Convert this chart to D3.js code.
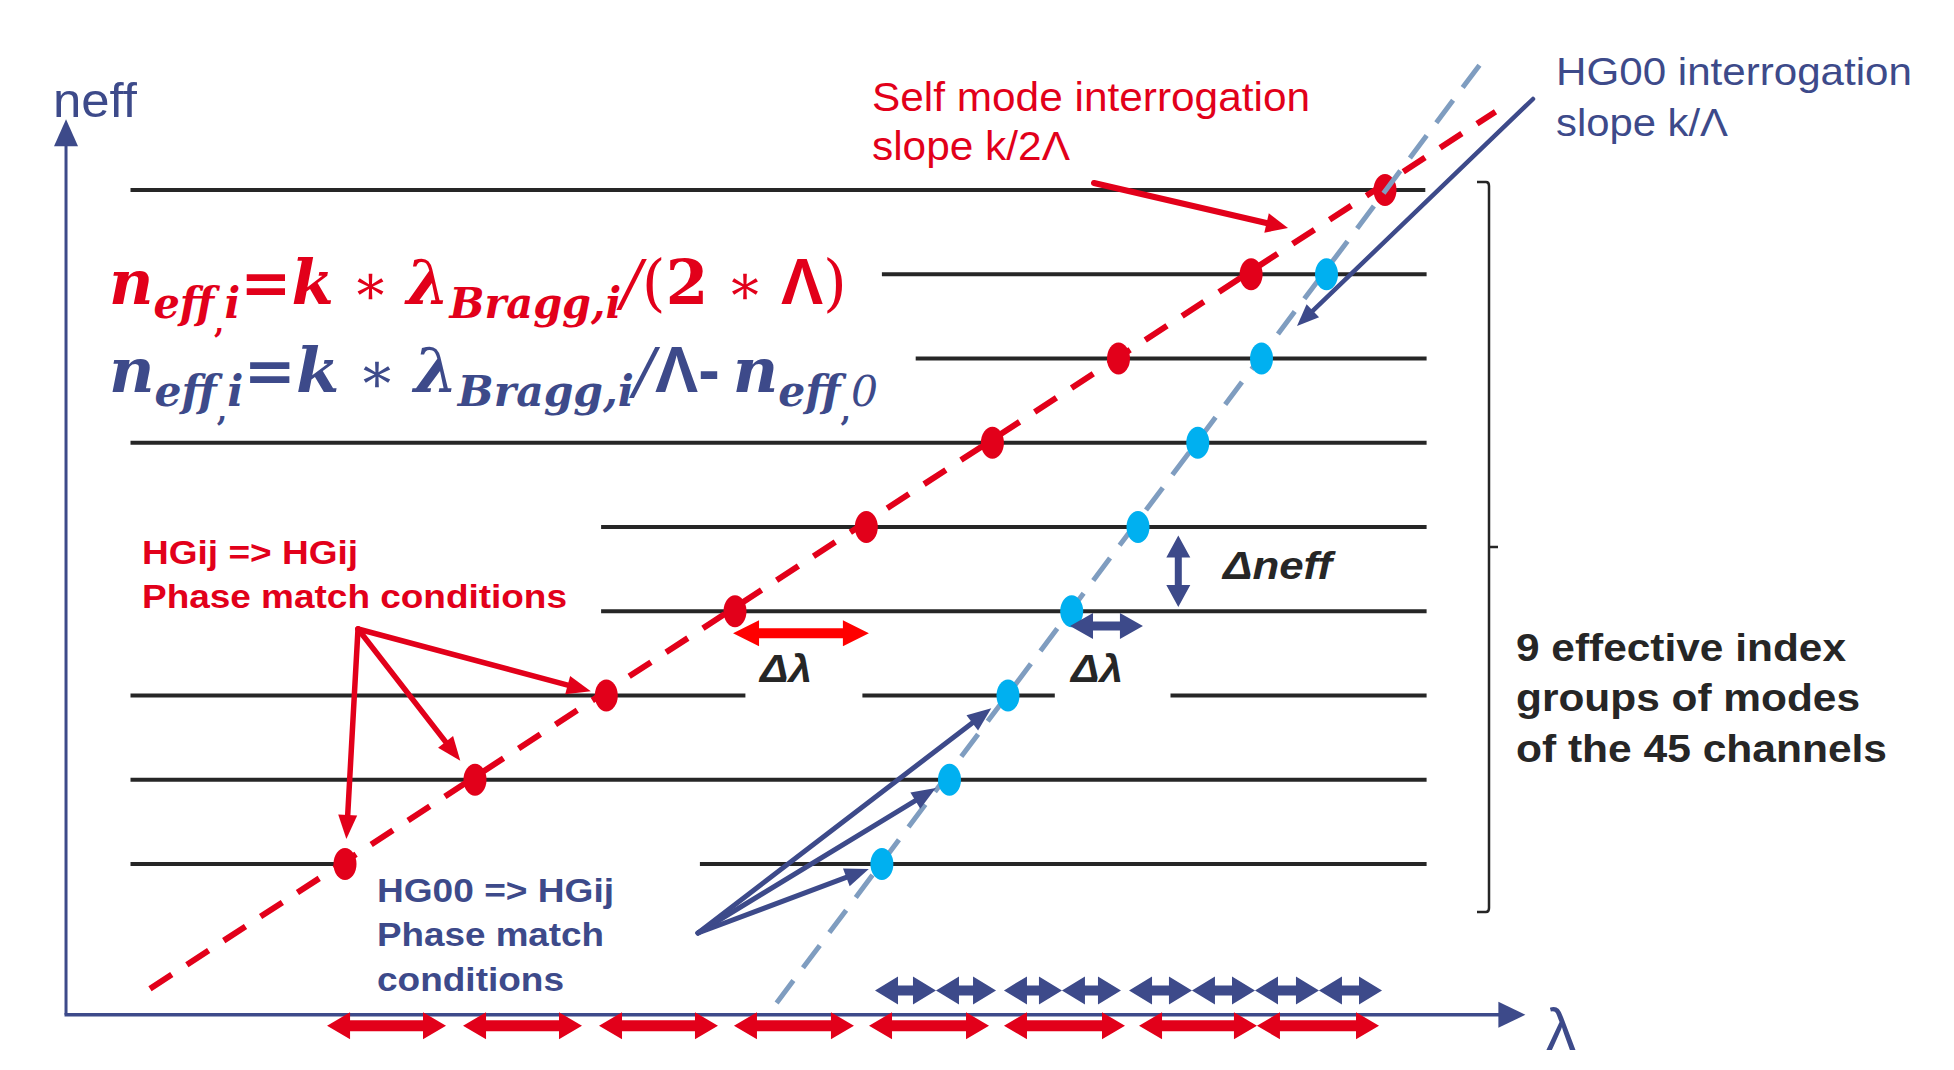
<!DOCTYPE html>
<html><head><meta charset="utf-8">
<script src="https://cdn.jsdelivr.net/npm/d3@7"></script>
<style>html,body{margin:0;padding:0;background:#fff;overflow:hidden}</style>
</head><body>
<svg id="c" width="1954" height="1070"></svg>
<script>
// ---------- data (λ in channel units, level = effective index group) ----------
const levels      = [1, 2, 3, 4, 5, 6, 7, 8, 9];
const redLambda   = [1.0, 2.0, 3.01, 4.0, 5.01, 5.98, 6.95, 7.97, 9.0];   // HGij => HGij points (levels 1..9)
const blueLevels  = [1, 2, 3, 4, 5, 6, 7, 8];
const blueLambda  = [5.13, 5.65, 6.10, 6.59, 7.10, 7.56, 8.05, 8.55];     // HG00 => HGij points
const segLevel    = [1, 1, 2, 3, 3, 3, 4, 5, 6, 7, 8, 9];
const segStart    = [-0.65, 3.73, -0.65, -0.65, 4.98, 7.35, 2.97, 2.97, -0.65, 5.39, 5.13, -0.65];
const segEnd      = [1.0, 9.32, 9.32, 4.08, 6.46, 9.32, 9.32, 9.32, 9.32, 9.32, 9.32, 9.31];
const redLineLam  = [-0.5, 9.85];
const redLineLev  = [-0.48, 9.93];
const blueLineLam = [4.32, 9.75];
const blueLineLev = [-0.65, 10.53];
const redSpanStart  = [0.862, 1.908, 2.954, 3.992, 5.031, 6.069, 7.108, 8.015];
const redSpanEnd    = [1.777, 2.823, 3.869, 4.915, 5.954, 7.000, 8.015, 8.954];
const navySpanStart = [5.077, 5.546, 6.069, 6.515, 7.031, 7.515, 8.000, 8.492];
const navySpanEnd   = [5.546, 6.008, 6.515, 6.969, 7.515, 8.000, 8.492, 8.977];
const axisLam = [-1.146, 10.08];
const axisLev = [-0.79, 9.84];

// ---------- colours ----------
const RED = "#E2001A", NAVY = "#3D4A8A", CYAN = "#00B0F0", STEEL = "#7F9DC0", INK = "#262626";

const svg = d3.select("#c");
const x = d3.scaleLinear().domain([0, 10]).range([215, 1515]);
const y = d3.scaleLinear().domain([1, 9]).range([864, 190]);

function hdbl(x1, x2, yc, h, H, s) {
  return `M${x1},${yc}L${x1+h},${yc-H}L${x1+h},${yc-s}L${x2-h},${yc-s}L${x2-h},${yc-H}L${x2},${yc}L${x2-h},${yc+H}L${x2-h},${yc+s}L${x1+h},${yc+s}L${x1+h},${yc+H}Z`;
}
function vdbl(xc, y1, y2, h, H, s) {
  return `M${xc},${y1}L${xc-H},${y1+h}L${xc-s},${y1+h}L${xc-s},${y2-h}L${xc-H},${y2-h}L${xc},${y2}L${xc+H},${y2-h}L${xc+s},${y2-h}L${xc+s},${y1+h}L${xc+H},${y1+h}Z`;
}
function pointer(g, x1, y1, x2, y2, w, hl, hw, color) {
  const dx = x2 - x1, dy = y2 - y1, L = Math.hypot(dx, dy), ux = dx / L, uy = dy / L;
  const bx = x2 - ux * hl, by = y2 - uy * hl, nx = -uy, ny = ux;
  g.append("line").attr("x1", x1).attr("y1", y1).attr("x2", bx + ux * 2).attr("y2", by + uy * 2)
    .attr("stroke", color).attr("stroke-width", w).attr("stroke-linecap", "round");
  g.append("path").attr("d", `M${x2},${y2}L${bx + nx * hw / 2},${by + ny * hw / 2}L${bx - nx * hw / 2},${by - ny * hw / 2}Z`)
    .attr("fill", color);
}
function pointTo(g, x1, y1, cx, cy, stop, w, hl, hw, color) {
  const dx = cx - x1, dy = cy - y1, L = Math.hypot(dx, dy);
  pointer(g, x1, y1, cx - dx / L * stop, cy - dy / L * stop, w, hl, hw, color);
}
function label(txt, px, py, size, weight, color, width, style, family) {
  const t = svg.append("text").attr("x", px).attr("y", py)
    .attr("font-family", family || "'Liberation Sans', Arial, sans-serif")
    .attr("font-size", size).attr("font-weight", weight || "normal")
    .attr("font-style", style || "normal").attr("fill", color).text(txt);
  if (width) t.attr("textLength", width).attr("lengthAdjust", "spacingAndGlyphs");
  return t;
}

// ---------- horizontal effective index lines ----------
svg.append("g").selectAll("line").data(segLevel).join("line")
  .attr("x1", (d, i) => x(segStart[i])).attr("x2", (d, i) => x(segEnd[i]))
  .attr("y1", d => y(d)).attr("y2", d => y(d))
  .attr("stroke", INK).attr("stroke-width", 4);

// ---------- axes ----------
const ax = svg.append("g");
const ox = x(axisLam[0]), oy = y(axisLev[0]), tx = x(axisLam[1]), ty = y(axisLev[1]);
ax.append("line").attr("x1", ox).attr("y1", oy).attr("x2", ox).attr("y2", ty + 20).attr("stroke", NAVY).attr("stroke-width", 3);
ax.append("path").attr("d", `M${ox},${ty}L${ox-12},${ty+27}L${ox+12},${ty+27}Z`).attr("fill", NAVY);
ax.append("line").attr("x1", ox - 1.5).attr("y1", oy).attr("x2", tx - 20).attr("y2", oy).attr("stroke", NAVY).attr("stroke-width", 3.5);
ax.append("path").attr("d", `M${tx},${oy}L${tx-27},${oy-13}L${tx-27},${oy+13}Z`).attr("fill", NAVY);

// ---------- interrogation lines & points ----------
svg.append("line").attr("x1", x(redLineLam[0])).attr("y1", y(redLineLev[0]))
  .attr("x2", x(redLineLam[1])).attr("y2", y(redLineLev[1]))
  .attr("stroke", RED).attr("stroke-width", 6).attr("stroke-dasharray", "26,18");
svg.append("g").selectAll("ellipse").data(levels).join("ellipse")
  .attr("cx", (d, i) => x(redLambda[i])).attr("cy", d => y(d))
  .attr("rx", 11.5).attr("ry", 16).attr("fill", RED);
svg.append("line").attr("x1", x(blueLineLam[0])).attr("y1", y(blueLineLev[0]))
  .attr("x2", x(blueLineLam[1])).attr("y2", y(blueLineLev[1]))
  .attr("stroke", STEEL).attr("stroke-width", 5).attr("stroke-dasharray", "28,16");
svg.append("g").selectAll("ellipse").data(blueLevels).join("ellipse")
  .attr("cx", (d, i) => x(blueLambda[i])).attr("cy", d => y(d))
  .attr("rx", 11.5).attr("ry", 16).attr("fill", CYAN);

// ---------- channel spans along the axis ----------
svg.append("g").selectAll("path").data(redSpanStart).join("path")
  .attr("d", (d, i) => hdbl(x(d), x(redSpanEnd[i]), y(-0.92), 23, 13.5, 5.5)).attr("fill", RED);
svg.append("g").selectAll("path").data(navySpanStart).join("path")
  .attr("d", (d, i) => hdbl(x(d), x(navySpanEnd[i]), y(-0.50), 23, 14, 5)).attr("fill", NAVY);

// ---------- Δλ / Δneff markers ----------
svg.append("path").attr("d", hdbl(x(3.985), x(5.03), y(3.74), 26, 13, 5)).attr("fill", "#FF0000");
svg.append("path").attr("d", hdbl(x(6.577), x(7.138), y(3.825), 23, 13, 4.5)).attr("fill", NAVY);
svg.append("path").attr("d", vdbl(x(7.41), y(4.9), y(4.05), 22, 12, 3.5)).attr("fill", NAVY);

// ---------- annotation arrows ----------
const an = svg.append("g");
[3, 2, 1].forEach((lv, k) => pointTo(an, 358, 629, x(redLambda[lv - 1]), y(lv), [16, 24, 25][k], 5.5, 24, 19, RED));
[3, 2, 1].forEach((lv, k) => pointTo(an, 698, 933, x(blueLambda[lv - 1]), y(lv), [21, 16, 14][k], 5, 24, 19, NAVY));
pointer(an, 1094, 183, 1288, 228, 6, 22, 20, RED);
pointer(an, 1533, 99, 1297, 326, 4.5, 22, 18, NAVY);

// ---------- bracket ----------
svg.append("path").attr("d", "M1477,182 L1486,182 Q1489,182 1489,186 L1489,908 Q1489,912 1486,912 L1477,912 M1489,547 L1498,547")
  .attr("fill", "none").attr("stroke", INK).attr("stroke-width", 2.5);

// ---------- texts ----------
label("neff", 53, 117, 48, "normal", NAVY, 84);
label("λ", 1546, 1050, 60, "normal", NAVY, 30);
label("Self mode interrogation", 872, 111, 40, "normal", RED, 438);
label("slope k/2Λ", 872, 160, 40, "normal", RED, 198);
label("HG00 interrogation", 1556, 85, 39, "normal", NAVY, 356);
label("slope k/Λ", 1556, 136, 39, "normal", NAVY, 172);
label("HGij => HGij", 142, 564, 34, "bold", RED, 216);
label("Phase match conditions", 142, 608, 34, "bold", RED, 425);
label("HG00 => HGij", 377, 902, 34, "bold", NAVY, 237);
label("Phase match", 377, 946, 34, "bold", NAVY, 227);
label("conditions", 377, 991, 34, "bold", NAVY, 187);
label("Δλ", 760, 682, 38, "bold", INK, 52, "italic");
label("Δλ", 1071, 682, 38, "bold", INK, 52, "italic");
label("Δneff", 1223, 579, 38, "bold", INK, 109, "italic");
label("9 effective index", 1516, 661, 38, "bold", INK, 330);
label("groups of modes", 1516, 711, 38, "bold", INK, 344);
label("of the 45 channels", 1516, 762, 38, "bold", INK, 371);

// ---------- formulas ----------
function formula(px, py, color, width, parts) {
  const t = svg.append("text").attr("x", px).attr("y", py).attr("fill", color)
    .attr("font-family", "'DejaVu Serif', serif").attr("textLength", width).attr("lengthAdjust", "spacingAndGlyphs");
  parts.forEach(p => {
    const s = t.append("tspan").text(p[0]).attr("font-size", p[1])
      .attr("font-style", p[2] ? "italic" : "normal").attr("font-weight", p[3] ? "bold" : "normal");
    if (p[4]) s.attr("dy", p[4]);
    if (p[5]) s.attr("font-family", p[5]);
  });
}
const SANS = "'Liberation Sans', Arial, sans-serif";
formula(109, 304, RED, 738, [
  ["n", 62, 1, 1], ["eff", 42, 1, 1, 14], [",", 30, 0, 1, 15], ["i", 42, 1, 1, -15],
  ["=", 62, 0, 1, -14], ["k", 62, 1, 1], [" ∗ ", 56, 0, 0], ["λ", 62, 1, 1],
  ["Bragg,i", 42, 1, 1, 14], ["/", 62, 1, 0, -14], ["(", 62, 0, 0], ["2", 62, 0, 1], [" ∗  ", 56, 0, 0],
  ["Λ", 64, 0, 1, 0, SANS], [")", 62, 0, 0]
]);
formula(109, 392, NAVY, 769, [
  ["n", 62, 1, 1], ["eff", 42, 1, 1, 14], [",", 30, 0, 1, 15], ["i", 42, 1, 1, -15],
  ["=", 62, 0, 1, -14], ["k", 62, 1, 1], [" ∗ ", 56, 0, 0], ["λ", 62, 1, 1],
  ["Bragg,i", 42, 1, 1, 14], ["/", 62, 1, 0, -14], ["Λ-", 64, 0, 1, 0, SANS], [" ", 40, 0, 0],
  ["n", 62, 1, 1], ["eff", 42, 1, 1, 14], [",", 30, 0, 1, 15], ["0", 42, 1, 0, -15]
]);
</script>
</body></html>
